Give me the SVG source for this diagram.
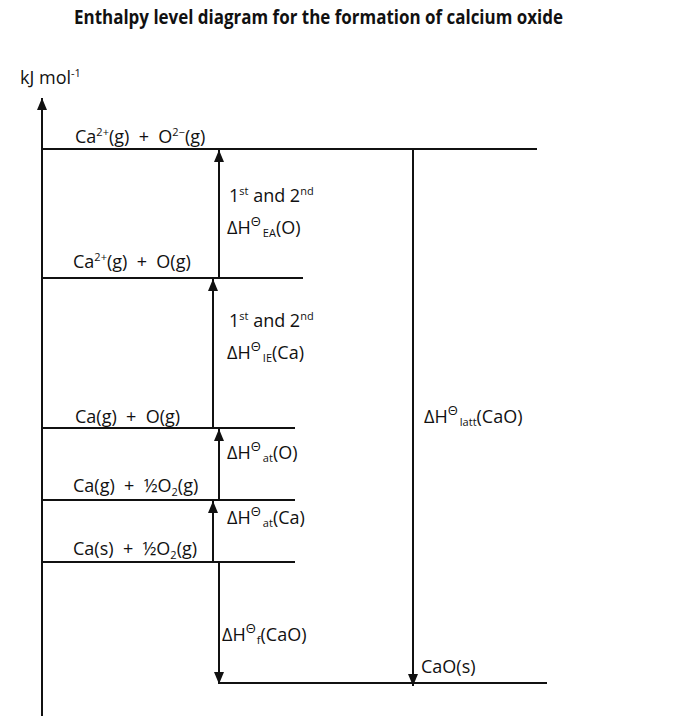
<svg xmlns="http://www.w3.org/2000/svg" width="700" height="724" viewBox="0 0 700 724">
<style>
text{font-family:"Open Sans","Liberation Sans",sans-serif;font-size:18px;fill:#111;white-space:pre}
.title{font-weight:bold;font-size:19px}
.sup{font-size:11px}
.sub{font-size:11px}
.th{font-size:13px}
.lvl{stroke:#111;stroke-width:2;fill:none}
.con{stroke:#111;stroke-width:2;fill:none}
</style>
<defs>
<marker id="ah" viewBox="0 0 12 10" refX="12" refY="5" markerWidth="12" markerHeight="10" markerUnits="userSpaceOnUse" orient="auto">
<path d="M0,0 L12,5 L0,10 Z" fill="#111"/>
</marker>
</defs>
<rect width="700" height="724" fill="#fff"/>
<text class="title" x="74" y="24" textLength="489" lengthAdjust="spacingAndGlyphs">Enthalpy level diagram for the formation of calcium oxide</text>
<text x="20" y="84">kJ mol<tspan class="sup" dy="-7">-1</tspan></text>

<g id="axis">
<line class="con" x1="42" y1="716" x2="42" y2="98" marker-end="url(#ah)"/>
</g>

<g id="level-ions">
<line class="lvl" x1="42" y1="149" x2="537" y2="149"/>
<text x="75" y="143">Ca<tspan class="sup" dy="-7">2+</tspan><tspan dy="7">(g)  +  O</tspan><tspan class="sup" dy="-7">2−</tspan><tspan dy="7">(g)</tspan></text>
</g>
<g id="level-ca2-o">
<line class="lvl" x1="42" y1="278" x2="303" y2="278"/>
<text x="73" y="268">Ca<tspan class="sup" dy="-7">2+</tspan><tspan dy="7">(g)  +  O(g)</tspan></text>
</g>
<g id="level-cag-og">
<line class="lvl" x1="42" y1="428" x2="295" y2="428" stroke="#555"/>
<text x="75" y="423">Ca(g)  +  O(g)</text>
</g>
<g id="level-cag-o2">
<line class="lvl" x1="42" y1="500" x2="295" y2="500"/>
<text x="73" y="492">Ca(g)  +  ½O<tspan class="sub" dy="4">2</tspan><tspan dy="-4">(g)</tspan></text>
</g>
<g id="level-cas-o2">
<line class="lvl" x1="42" y1="562" x2="295" y2="562"/>
<text x="73" y="555">Ca(s)  +  ½O<tspan class="sub" dy="4">2</tspan><tspan dy="-4">(g)</tspan></text>
</g>
<g id="level-cao">
<line class="lvl" x1="219" y1="683" x2="547" y2="683"/>
<text x="421" y="673">CaO(s)</text>
</g>

<g id="connectors">
<line class="con" x1="219" y1="278" x2="219" y2="150" marker-end="url(#ah)"/>
<line class="con" x1="213" y1="428" x2="213" y2="279" marker-end="url(#ah)"/>
<line class="con" x1="219" y1="500" x2="219" y2="429" marker-end="url(#ah)"/>
<line class="con" x1="213" y1="562" x2="213" y2="501" marker-end="url(#ah)"/>
<line class="con" x1="219" y1="562" x2="219" y2="684" marker-end="url(#ah)"/>
<line class="con" x1="413" y1="149" x2="413" y2="686" marker-end="url(#ah)"/>
</g>

<g id="labels">
<text x="229" y="202">1<tspan class="sup" dy="-7">st</tspan><tspan dy="7"> and 2</tspan><tspan class="sup" dy="-7">nd</tspan></text>
<text x="227" y="234">ΔH<tspan class="th" dy="-8">Θ</tspan><tspan class="sub" dx="2" dy="11">EA</tspan><tspan dy="-3">(O)</tspan></text>
<text x="229" y="327">1<tspan class="sup" dy="-7">st</tspan><tspan dy="7"> and 2</tspan><tspan class="sup" dy="-7">nd</tspan></text>
<text x="227" y="359">ΔH<tspan class="th" dy="-8">Θ</tspan><tspan class="sub" dx="2" dy="11">IE</tspan><tspan dy="-3">(Ca)</tspan></text>
<text x="227" y="459">ΔH<tspan class="th" dy="-8">Θ</tspan><tspan class="sub" dx="2" dy="11">at</tspan><tspan dy="-3">(O)</tspan></text>
<text x="227" y="524">ΔH<tspan class="th" dy="-8">Θ</tspan><tspan class="sub" dx="2" dy="11">at</tspan><tspan dy="-3">(Ca)</tspan></text>
<text x="222" y="641">ΔH<tspan class="th" dy="-8">Θ</tspan><tspan class="sub" dx="1" dy="11">f</tspan><tspan dy="-3">(CaO)</tspan></text>
<text x="424" y="423">ΔH<tspan class="th" dy="-8">Θ</tspan><tspan class="sub" dx="2" dy="11">latt</tspan><tspan dy="-3">(CaO)</tspan></text>
</g>
</svg>
